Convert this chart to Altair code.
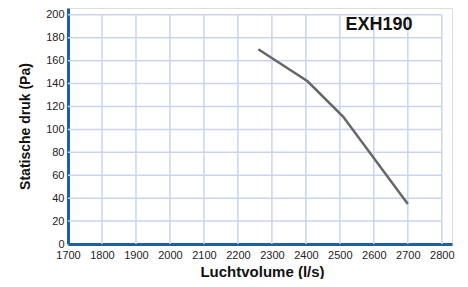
import altair as alt
import pandas as pd

# Data
flow = [2260, 2405, 2510, 2700]
pressure = [170, 142, 111, 35]
x_ticks = [1700, 1800, 1900, 2000, 2100, 2200, 2300, 2400, 2500, 2600, 2700, 2800]
y_ticks = [0, 20, 40, 60, 80, 100, 120, 140, 160, 180, 200]
label_text = ["EXH190"]
label_x = [2615]
label_y = [191]

X_DOM = [1700, 2830]
Y_DOM = [0, 206]

line_df = pd.DataFrame({"x": flow, "y": pressure})
vgrid = pd.DataFrame({"x": x_ticks[1:], "y": 0, "y2": 200})
hgrid = pd.DataFrame({"y": y_ticks[1:], "x": 1700, "x2": 2800})
lbl = pd.DataFrame({"t": label_text, "x": label_x, "y": label_y})

xs = alt.Scale(domain=X_DOM, nice=False, zero=False)
ys = alt.Scale(domain=Y_DOM, nice=False)

xaxis = alt.Axis(values=x_ticks, title="Luchtvolume (l/s)", grid=False,
                 ticks=False, domainColor="#1f5ea8", domainWidth=3,
                 format="d", labelOverlap=False,
                 labelFont="Liberation Sans", labelFontSize=11, labelColor="#222",
                 labelPadding=5, titleFont="Liberation Sans", titleFontSize=15,
                 titleFontWeight="bold", titleColor="#111",
                 titleBaseline="bottom", titleY=35, titleX=194,
                 labelFlush=False)
yaxis = alt.Axis(values=y_ticks, title="Statische druk (Pa)", grid=False,
                 ticks=False, domainColor="#1f5ea8", domainWidth=3,
                 format="d", labelOverlap=False,
                 labelFont="Liberation Sans", labelFontSize=11, labelColor="#222",
                 labelPadding=4, titleFont="Liberation Sans", titleFontSize=14,
                 titleFontWeight="bold", titleColor="#111", titlePadding=13,
                 labelFlush=False)

grid_color = "#c9d5ee"

vg = alt.Chart(vgrid).mark_rule(color=grid_color, strokeWidth=1.5).encode(
    x=alt.X("x:Q", scale=xs, axis=xaxis), y=alt.Y("y:Q", scale=ys, axis=yaxis), y2="y2:Q")
hg = alt.Chart(hgrid).mark_rule(color=grid_color, strokeWidth=1.5).encode(
    y=alt.Y("y:Q", scale=ys, axis=yaxis), x=alt.X("x:Q", scale=xs, axis=xaxis), x2="x2:Q")

line = alt.Chart(line_df).mark_line(color="#676767", strokeWidth=2.5).encode(
    x=alt.X("x:Q", scale=xs, axis=xaxis),
    y=alt.Y("y:Q", scale=ys, axis=yaxis),
)

txt = alt.Chart(lbl).mark_text(font="Liberation Sans", fontSize=18, fontWeight="bold",
                               color="#111", align="center", baseline="middle").encode(
    x=alt.X("x:Q", scale=xs, axis=xaxis), y=alt.Y("y:Q", scale=ys, axis=yaxis), text="t:N")

chart = alt.layer(vg, hg, line, txt).properties(
    width=384, height=236,
    autosize=alt.AutoSizeParams(type="none"),
    padding={"left": 60, "top": 0, "right": 8, "bottom": 35},
).configure_view(stroke=None).configure(background="white")

chart.save("out.html", embed_options={"renderer": "svg", "actions": False})
